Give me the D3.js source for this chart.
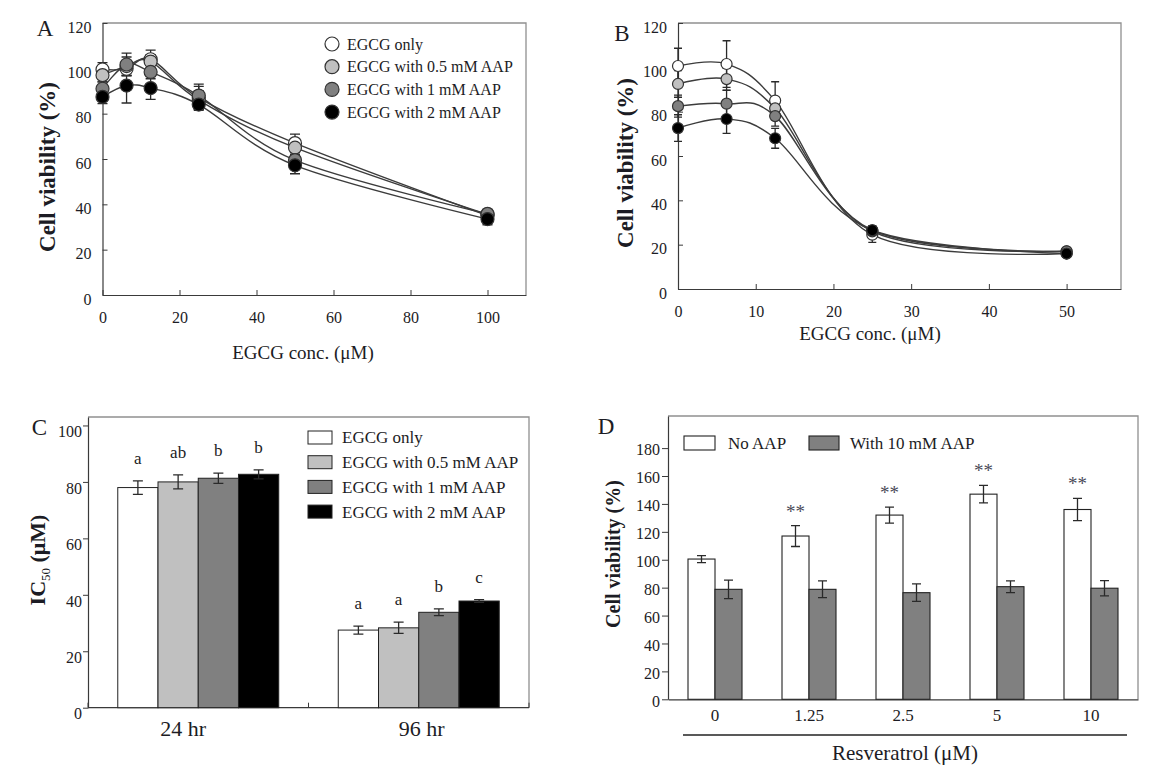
<!DOCTYPE html>
<html><head><meta charset="utf-8">
<script src="https://cdn.jsdelivr.net/npm/d3@7"></script>
<style>
html,body{margin:0;padding:0;background:#fff;}
svg{display:block;}
</style></head>
<body><svg id="chart" width="1161" height="778"></svg>
<script>
// ================= DATA =================
const seriesNames = ["EGCG only", "EGCG with 0.5 mM AAP", "EGCG with 1 mM AAP", "EGCG with 2 mM AAP"];

// Panel A (24 hr?) : EGCG concentration, cell viability (%)
const aConc = [0, 6.25, 12.5, 25, 50, 100];
const aTicks = [0, 20, 40, 60, 80, 100];
const aEgcgOnly = [99.5, 99.8, 104, 87, 67, 35];
const aEgcgOnlyErr = [3, 3, 4, 5, 4, 2];
const aAap05 = [97, 101, 103, 86, 65, 35.5];
const aAap05Err = [3, 4, 3, 4, 3, 2];
const aAap1 = [91, 101.7, 98.4, 88, 59.5, 35.8];
const aAap1Err = [3, 5, 3, 5, 2.5, 2];
const aAap2 = [87.4, 92.4, 91.3, 84, 57.2, 33.5];
const aAap2Err = [3, 7.7, 5, 2.5, 3.7, 2.5];

// Panel B
const bConc = [0, 6.25, 12.5, 25, 50];
const bTicks = [0, 10, 20, 30, 40, 50];
const bEgcgOnly = [100.6, 101.5, 85, 24.5, 16];
const bEgcgOnlyErr = [8, 10.5, 8.5, 3.5, 1];
const bAap05 = [92.5, 94.7, 81.5, 26, 17];
const bAap05Err = [6, 5, 4, 2, 1];
const bAap1 = [82.5, 83.6, 78, 26.5, 17];
const bAap1Err = [5, 6, 4.5, 2, 1];
const bAap2 = [72.6, 76.7, 68, 26.5, 16];
const bAap2Err = [6, 6.5, 4.5, 2, 1];

const viabilityTicks = [0, 20, 40, 60, 80, 100, 120];

// Panel C : IC50 (uM)
const cGroups = ["24 hr", "96 hr"];
const cEgcgOnly = [78, 27.5];
const cEgcgOnlyErr = [2.4, 1.4];
const cAap05 = [80, 28.3];
const cAap05Err = [2.5, 2];
const cAap1 = [81.3, 33.8];
const cAap1Err = [1.8, 1.2];
const cAap2 = [82.7, 37.8];
const cAap2Err = [1.6, 0.5];
const cLetters24 = ["a", "ab", "b", "b"];
const cLetters96 = ["a", "a", "b", "c"];
const cTicks = [0, 20, 40, 60, 80, 100];

// Panel D : Resveratrol
const dDoses = ["0", "1.25", "2.5", "5", "10"];
const dSeries = ["No AAP", "With 10 mM AAP"];
const dNoAap = [100.5, 117, 132, 147, 136];
const dNoAapErr = [2.5, 7.5, 5.7, 6.3, 8];
const dWithAap = [78.8, 78.8, 76.4, 80.7, 79.6];
const dWithAapErr = [6.6, 6, 6.3, 4.2, 5.5];
const dSig = ["", "**", "**", "**", "**"];
const dTicks = [0, 20, 40, 60, 80, 100, 120, 140, 160, 180];

// ================= STYLE =================
const FONT = '"Liberation Serif","Times New Roman",Times,serif';
const TXT = "#1c1c24";
const AXC = "#3a3a3a";
const FRAME = "#909090";
const FILLS = ["#ffffff", "#c0c0c0", "#808080", "#000000"];
const MARK = "#2a2a2a";

const svg = d3.select("#chart").attr("font-family", FONT);
svg.append("rect").attr("width", 1161).attr("height", 778).attr("fill", "#fff");

function styleAxis(g, size) {
  g.attr("font-family", FONT).attr("font-size", size);
  g.selectAll("text").attr("fill", TXT);
  g.selectAll("line").attr("stroke", AXC);
  g.select(".domain").attr("stroke", AXC).attr("stroke-width", 1.2);
}
function frameTR(g, x0, x1, yB, yT) {
  g.append("path").attr("d", `M${x0},${yT}H${x1}V${yB}`)
    .attr("fill", "none").attr("stroke", FRAME).attr("stroke-width", 1.3);
}
function errPath(cx, yTop, yBot, half) {
  return `M${cx - half},${yTop}H${cx + half}M${cx},${yTop}V${yBot}M${cx - half},${yBot}H${cx + half}`;
}
function label(g, txt, x, y, size, opts = {}) {
  const t = g.append("text").attr("x", x).attr("y", y).attr("font-size", size)
    .attr("fill", TXT).attr("text-anchor", opts.anchor || "middle")
    .attr("dy", opts.dy || "0.35em").text(txt);
  if (opts.bold) t.attr("font-weight", "bold");
  if (opts.rotate) t.attr("transform", `rotate(-90,${x},${y})`);
  return t;
}

// ================= LINE PANELS (A, B) =================
function linePanel(p) {
  const g = svg.append("g");
  const x = d3.scaleLinear().domain(p.xDom).range(p.xRange);
  const y = d3.scaleLinear().domain([0, 120]).range(p.yRange);
  frameTR(g, p.xRange[0], p.xRange[1], p.yRange[0], p.yRange[1]);

  const ya = g.append("g").attr("transform", `translate(${p.xRange[0]},0)`)
    .call(d3.axisLeft(y).tickValues(viabilityTicks).tickSizeInner(-5).tickSizeOuter(0).tickPadding(11));
  styleAxis(ya, 16);
  ya.selectAll("text").attr("dy", "0.57em");

  const xa = g.append("g").attr("transform", `translate(0,${p.yRange[0]})`)
    .call(d3.axisBottom(x).tickValues(p.xTicks).tickSizeInner(-5).tickSizeOuter(0).tickPadding(17));
  styleAxis(xa, 16);

  const line = d3.line().curve(d3.curveCardinal.tension(0))
    .x((d, i) => x(p.xs[i])).y(d => y(d));
  p.series.forEach(s => {
    g.append("path").attr("d", line(s)).attr("fill", "none")
      .attr("stroke", "#3c3c3c").attr("stroke-width", 1.4);
  });
  p.series.forEach((s, k) => {
    s.forEach((v, i) => {
      const e = p.errs[k][i];
      g.append("path").attr("d", errPath(x(p.xs[i]), y(v + e), y(v - e), p.cap))
        .attr("fill", "none").attr("stroke", MARK).attr("stroke-width", 1.3);
    });
  });
  p.series.forEach((s, k) => {
    g.selectAll(null).data(s).join("circle")
      .attr("cx", (d, i) => x(p.xs[i])).attr("cy", d => y(d)).attr("r", p.r)
      .attr("fill", FILLS[k]).attr("stroke", "#333").attr("stroke-width", 1.2);
  });
  return { g, x, y };
}

const A = linePanel({
  xs: aConc, xDom: [0, 110], xRange: [102.5, 526], yRange: [295, 23], xTicks: aTicks,
  series: [aEgcgOnly, aAap05, aAap1, aAap2],
  errs: [aEgcgOnlyErr, aAap05Err, aAap1Err, aAap2Err], r: 6.5, cap: 5
});
label(A.g, "A", 45, 28, 23);
label(A.g, "Cell viability (%)", 47, 167, 23, { bold: true, rotate: true });
label(A.g, "EGCG conc. (\u03bcM)", 303, 352, 19);
// legend for A/B
seriesNames.forEach((n, i) => {
  const cy = 44 + i * 22.7;
  A.g.append("circle").attr("cx", 332).attr("cy", cy).attr("r", 7)
    .attr("fill", FILLS[i]).attr("stroke", "#333").attr("stroke-width", 1.2);
  label(A.g, n, 347, cy, 16, { anchor: "start" });
});

const B = linePanel({
  xs: bConc, xDom: [0, 57], xRange: [678, 1121], yRange: [289, 23], xTicks: bTicks,
  series: [bEgcgOnly, bAap05, bAap1, bAap2],
  errs: [bEgcgOnlyErr, bAap05Err, bAap1Err, bAap2Err], r: 5.5, cap: 4
});
label(B.g, "B", 622, 33, 23);
label(B.g, "Cell viability (%)", 625, 163, 23, { bold: true, rotate: true });
label(B.g, "EGCG conc. (\u03bcM)", 870, 333, 19);

// ================= PANEL C =================
(function () {
  const g = svg.append("g");
  const xR = [88, 529], yR = [707.7, 417];
  const x = d3.scaleBand().domain(cGroups).range(xR).paddingInner(0.27).paddingOuter(0.135);
  const xi = d3.scaleBand().domain(seriesNames).range([0, x.bandwidth()]);
  const y = d3.scaleLinear().domain([0, 103]).range(yR);
  frameTR(g, xR[0], xR[1], yR[0], yR[1]);

  const ya = g.append("g").attr("transform", `translate(${xR[0]},0)`)
    .call(d3.axisLeft(y).tickValues(cTicks).tickSizeInner(5).tickSizeOuter(0).tickPadding(1));
  styleAxis(ya, 16);
  ya.selectAll("text").attr("dy", "0.7em");

  // bottom axis: line + ticks at group boundaries
  g.append("line").attr("x1", xR[0]).attr("x2", xR[1]).attr("y1", yR[0]).attr("y2", yR[0])
    .attr("stroke", AXC).attr("stroke-width", 1.2);
  d3.range(cGroups.length + 1).forEach(i => {
    const bx = xR[0] + i * x.step();
    g.append("line").attr("x1", bx).attr("x2", bx).attr("y1", yR[0]).attr("y2", yR[0] - 5)
      .attr("stroke", AXC);
  });

  const vals = [cEgcgOnly, cAap05, cAap1, cAap2];
  const errs = [cEgcgOnlyErr, cAap05Err, cAap1Err, cAap2Err];
  const letters = [cLetters24, cLetters96];
  cGroups.forEach((grp, gi) => {
    seriesNames.forEach((s, k) => {
      const v = vals[k][gi], e = errs[k][gi];
      const bx = x(grp) + xi(s);
      g.append("rect").attr("x", bx).attr("y", y(v)).attr("width", xi.bandwidth())
        .attr("height", y(0) - y(v)).attr("fill", FILLS[k]).attr("stroke", "#222").attr("stroke-width", 1);
      const cx = bx + xi.bandwidth() / 2;
      g.append("path").attr("d", errPath(cx, y(v + e), y(v - e), 5))
        .attr("fill", "none").attr("stroke", MARK).attr("stroke-width", 1.3);
      g.append("text").attr("x", cx).attr("y", y(v + e) - 17).attr("text-anchor", "middle")
        .attr("font-size", 17).attr("fill", TXT).text(letters[gi][k]);
    });
  });
  const labelDx = [-15, 3];
  cGroups.forEach((grp, gi) => {
    label(g, grp, x(grp) + x.bandwidth() / 2 + labelDx[gi], 728, 22);
  });

  label(g, "C", 39.5, 427, 23);
  // y title with subscript
  const t = g.append("text").attr("transform", "translate(37,560) rotate(-90)")
    .attr("text-anchor", "middle").attr("dy", "0.35em").attr("font-size", 22)
    .attr("font-weight", "bold").attr("fill", TXT);
  t.append("tspan").text("IC");
  t.append("tspan").attr("font-size", 13).attr("font-weight", "normal").attr("dy", 5).text("50");
  t.append("tspan").attr("dy", -5).text(" (\u03bcM)");

  // legend
  seriesNames.forEach((n, i) => {
    const cy = 437.5 + i * 24.7;
    g.append("rect").attr("x", 308).attr("y", cy - 6.5).attr("width", 24).attr("height", 13)
      .attr("fill", FILLS[i]).attr("stroke", "#222").attr("stroke-width", 1);
    label(g, n, 342, cy, 17, { anchor: "start" });
  });
})();

// ================= PANEL D =================
(function () {
  const g = svg.append("g");
  const xR = [668, 1138], yR = [699.3, 416];
  const x = d3.scaleBand().domain(dDoses).range(xR).paddingInner(0.4255).paddingOuter(0.2128);
  const xi = d3.scaleBand().domain(dSeries).range([0, x.bandwidth()]);
  const y = d3.scaleLinear().domain([0, 203]).range(yR);
  frameTR(g, xR[0], xR[1], yR[0], yR[1]);

  const ya = g.append("g").attr("transform", `translate(${xR[0]},0)`)
    .call(d3.axisLeft(y).tickValues(dTicks).tickSizeInner(6).tickSizeOuter(0).tickPadding(2));
  styleAxis(ya, 16);
  ya.selectAll("text").attr("dy", "0.42em");

  const xa = g.append("g").attr("transform", `translate(0,${yR[0]})`)
    .call(d3.axisBottom(x).tickSize(0).tickPadding(10));
  styleAxis(xa, 17);

  const vals = [dNoAap, dWithAap];
  const errs = [dNoAapErr, dWithAapErr];
  const fills = ["#ffffff", "#808080"];
  dDoses.forEach((dose, di) => {
    dSeries.forEach((s, k) => {
      const v = vals[k][di], e = errs[k][di];
      const bx = x(dose) + xi(s);
      g.append("rect").attr("x", bx).attr("y", y(v)).attr("width", xi.bandwidth())
        .attr("height", y(0) - y(v)).attr("fill", fills[k]).attr("stroke", "#222").attr("stroke-width", 1.1);
      const cx = bx + xi.bandwidth() / 2;
      g.append("path").attr("d", errPath(cx, y(v + e), y(v - e), 4.5))
        .attr("fill", "none").attr("stroke", MARK).attr("stroke-width", 1.3);
      if (k === 0 && dSig[di]) {
        g.append("text").attr("x", cx).attr("y", y(v + e) - 8).attr("text-anchor", "middle")
          .attr("font-size", 19).attr("fill", "#4a4a58").text(dSig[di]);
      }
    });
  });

  // legend
  g.append("rect").attr("x", 684).attr("y", 436).attr("width", 31).attr("height", 14)
    .attr("fill", fills[0]).attr("stroke", "#222").attr("stroke-width", 1.1);
  label(g, dSeries[0], 728, 443, 17, { anchor: "start" });
  g.append("rect").attr("x", 809).attr("y", 436).attr("width", 30).attr("height", 14)
    .attr("fill", fills[1]).attr("stroke", "#222").attr("stroke-width", 1.1);
  label(g, dSeries[1], 850, 443, 17, { anchor: "start" });

  // bracket line and title
  g.append("line").attr("x1", 683).attr("x2", 1127).attr("y1", 735).attr("y2", 735)
    .attr("stroke", "#222").attr("stroke-width", 1.3);
  label(g, "Resveratrol (\u03bcM)", 905, 753, 21);
  label(g, "D", 606, 426, 23);
  label(g, "Cell viability (%)", 613, 554, 20, { bold: true, rotate: true });
})();
</script>
</body></html>
